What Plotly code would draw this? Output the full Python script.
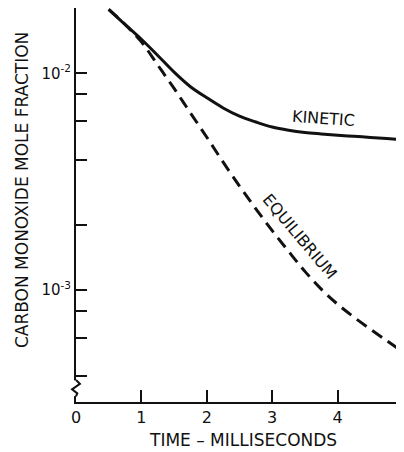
import plotly.graph_objects as go

# Data
time_ms = [0.5, 0.75, 1.0, 1.25, 1.5, 1.75, 2.0, 2.25, 2.5, 2.75, 3.0,
           3.25, 3.5, 3.75, 4.0, 4.25, 4.5, 4.75, 5.0]
kinetic = [0.01972, 0.01679, 0.01435, 0.01208, 0.01012, 0.00867, 0.00771,
           0.00692, 0.00634, 0.00596, 0.00565, 0.00546, 0.00533, 0.00525,
           0.00518, 0.00512, 0.00506, 0.00500, 0.00494]
equilibrium = [0.01972, 0.01679, 0.01396, 0.01091, 0.00851, 0.00656, 0.00507,
               0.00389, 0.00302, 0.00237, 0.00188, 0.00151, 0.00122, 0.00101,
               0.000861, 0.000750, 0.000661, 0.000585, 0.000519]

x_tick_vals = [0, 1, 2, 3, 4, 5]
x_tick_text = ["0", "1", "2", "3", "4", "5"]
y_tick_vals = [0.02, 0.01, 0.008, 0.006, 0.004, 0.002, 0.001, 0.0008, 0.0006, 0.0004]
y_tick_text = ["", "10<sup>-2</sup>", "", "", "", "", "10<sup>-3</sup>", "", "", ""]

FONT = "DejaVu Sans"
INK = "#111111"

fig = go.Figure()
fig.add_trace(go.Scatter(
    x=time_ms, y=equilibrium, mode="lines", name="EQUILIBRIUM",
    line=dict(color=INK, width=3, dash="12px,7px", shape="spline", smoothing=1),
))
fig.add_trace(go.Scatter(
    x=time_ms, y=kinetic, mode="lines", name="KINETIC",
    line=dict(color=INK, width=3, shape="spline", smoothing=1),
))

# the page body adds an 8px offset; sizes compensate so the plot area
# lands at x 76..403, y 8..402 of the window
fig.update_layout(
    width=396, height=444,
    margin=dict(l=68, r=1, t=0, b=50),
    paper_bgcolor="white", plot_bgcolor="white",
    showlegend=False,
    font=dict(family=FONT, color=INK, size=16),
    xaxis=dict(
        range=[0, 5], tickvals=x_tick_vals, ticktext=x_tick_text,
        ticks="inside", ticklen=12, tickwidth=2, tickcolor=INK,
        showline=True, linecolor=INK, linewidth=2,
        showgrid=False, zeroline=False, ticklabeloverflow="allow",
        automargin=False,
        tickfont=dict(family=FONT, size=16, color=INK),
    ),
    yaxis=dict(
        type="log", range=[-3.516, -1.699],
        tickvals=y_tick_vals, ticktext=y_tick_text,
        ticks="inside", ticklen=11, tickwidth=2, tickcolor=INK,
        showline=True, linecolor=INK, linewidth=2,
        showgrid=False, zeroline=False, automargin=False,
        tickfont=dict(family=FONT, size=15, color=INK),
    ),
    annotations=[
        dict(text="TIME – MILLISECONDS", xref="paper", yref="paper",
             x=0.511, y=-0.0964, xanchor="center", yanchor="middle",
             showarrow=False, font=dict(family=FONT, size=17, color=INK)),
        dict(text="CARBON MONOXIDE MOLE FRACTION", xref="paper", yref="paper",
             x=-0.165, y=0.538, xanchor="center", yanchor="middle", textangle=-90,
             showarrow=False, font=dict(family=FONT, size=17, color=INK)),
        dict(text="KINETIC", x=3.79, y=-2.207, xref="x", yref="y",
             showarrow=False, textangle=4,
             font=dict(family=FONT, size=16, color=INK)),
        dict(text="EQUILIBRIUM", x=3.42, y=-2.754, xref="x", yref="y",
             showarrow=False, textangle=50,
             font=dict(family=FONT, size=16, color=INK)),
    ],
    shapes=[
        # axis break mark near the bottom of the y axis
        dict(type="rect", xref="x domain", yref="y domain",
             x0=-0.01, x1=0.01, y0=0.015, y1=0.055,
             fillcolor="white", line=dict(width=0)),
        dict(type="path", xref="x domain", yref="y domain",
             path="M 0 0.056 L 0.012 0.046 L -0.012 0.032 L 0.004 0.022 L 0 0.014",
             line=dict(color=INK, width=2)),
    ],
)

fig.write_html("out.html")
